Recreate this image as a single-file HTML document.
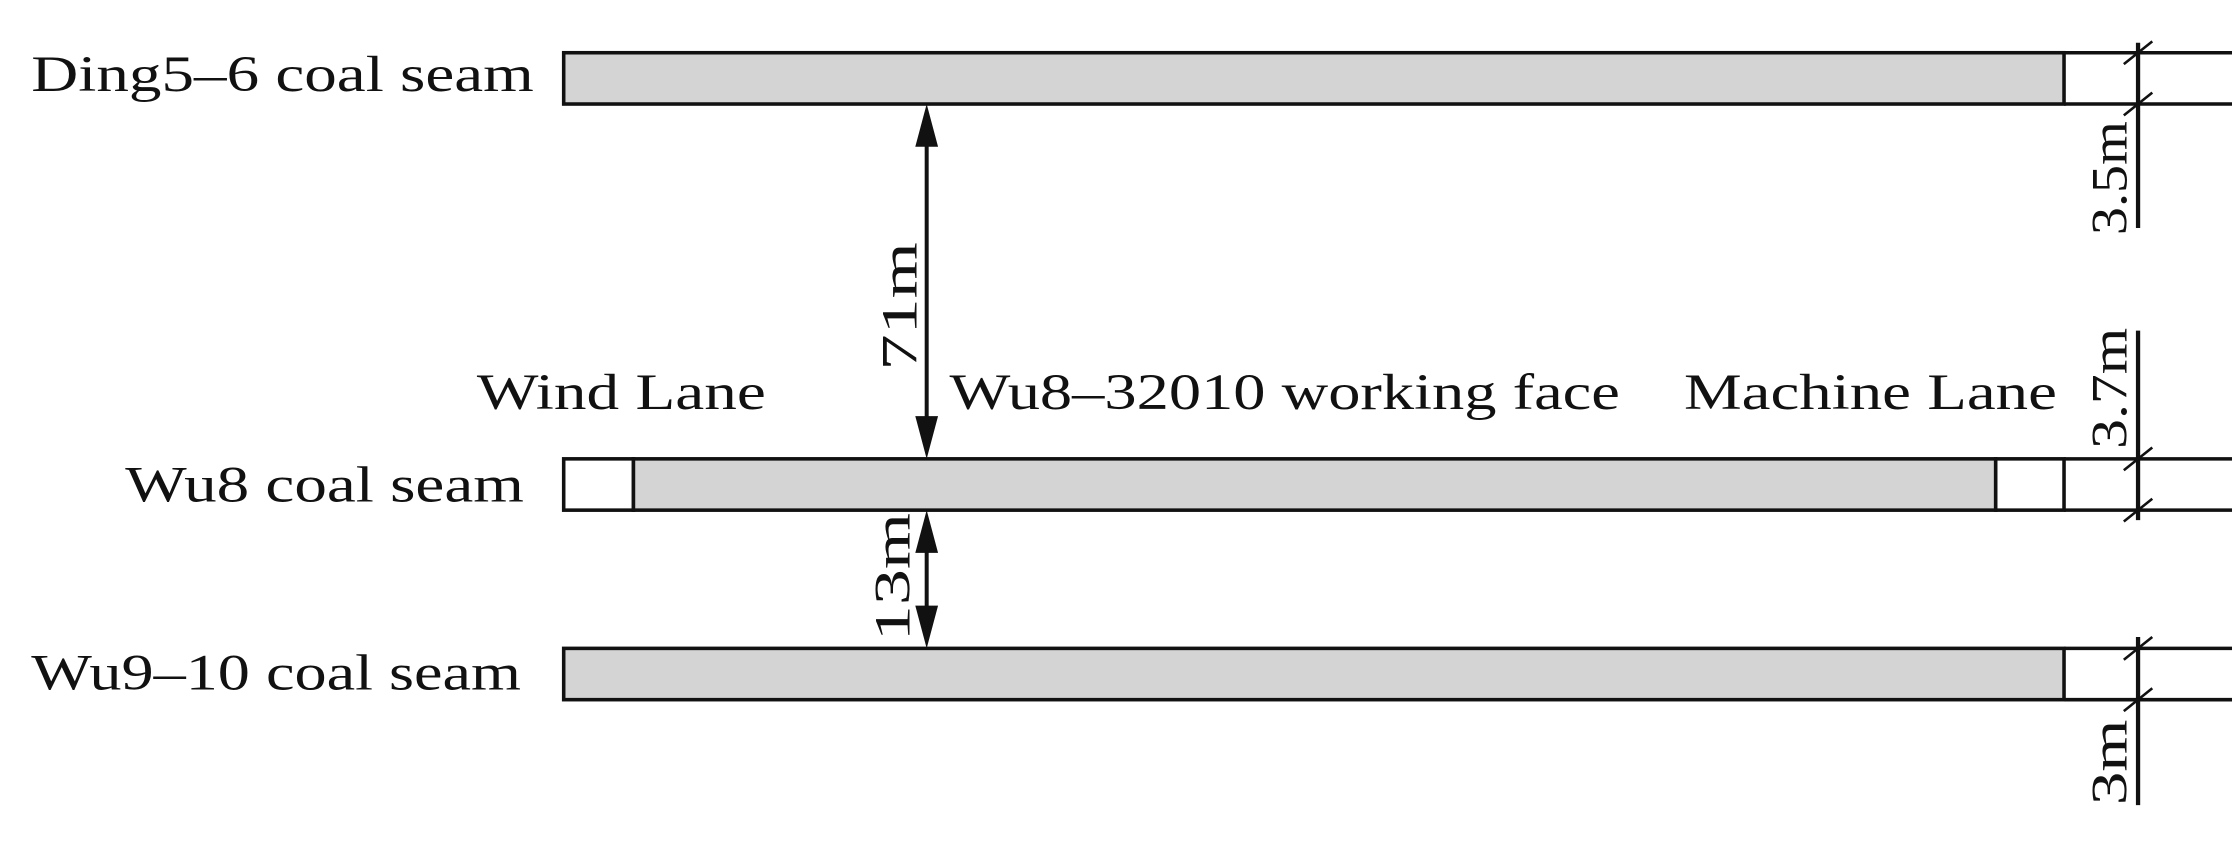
<!DOCTYPE html>
<html><head><style>html,body{margin:0;padding:0;background:#fff}svg{display:block}text{font-family:"Liberation Serif","Times New Roman",serif}</style></head>
<body>
<svg width="2232" height="855" viewBox="0 0 1568 600" preserveAspectRatio="none" xmlns="http://www.w3.org/2000/svg">
<g stroke="#111" stroke-width="2.5" fill="none">
<rect x="396" y="37" width="1054" height="36" fill="#d4d4d4"/>
<line x1="1450" y1="37" x2="1568" y2="37"/>
<line x1="1450" y1="73" x2="1568" y2="73"/>
<rect x="396" y="322" width="49" height="36" fill="#fff"/>
<rect x="445" y="322" width="957" height="36" fill="#d4d4d4"/>
<rect x="1402" y="322" width="48" height="36" fill="#fff"/>
<line x1="1450" y1="322" x2="1568" y2="322"/>
<line x1="1450" y1="358" x2="1568" y2="358"/>
<rect x="396" y="455" width="1054" height="36" fill="#d4d4d4"/>
<line x1="1450" y1="455" x2="1568" y2="455"/>
<line x1="1450" y1="491" x2="1568" y2="491"/>
<line x1="1502" y1="30" x2="1502" y2="160" stroke-width="3"/>
<line x1="1502" y1="232" x2="1502" y2="365" stroke-width="3"/>
<line x1="1502" y1="447" x2="1502" y2="565" stroke-width="3"/>
<g stroke-width="1.8">
<line x1="1492" y1="45" x2="1512" y2="29"/>
<line x1="1492" y1="81" x2="1512" y2="65"/>
<line x1="1492" y1="330" x2="1512" y2="314"/>
<line x1="1492" y1="366" x2="1512" y2="350"/>
<line x1="1492" y1="463" x2="1512" y2="447"/>
<line x1="1492" y1="499" x2="1512" y2="483"/>
</g>
<line x1="651" y1="95" x2="651" y2="300" stroke-width="2.8"/>
<line x1="651" y1="380" x2="651" y2="433" stroke-width="2.8"/>
</g>
<g fill="#111">
<polygon points="651,73 643,103 659,103"/>
<polygon points="651,322 643,292 659,292"/>
<polygon points="651,358 643,388 659,388"/>
<polygon points="651,455 643,425 659,425"/>
</g>
<g font-size="36" fill="#111">
<text x="22" y="64" textLength="353" lengthAdjust="spacingAndGlyphs">Ding5–6 coal seam</text>
<text x="88" y="352" textLength="280" lengthAdjust="spacingAndGlyphs">Wu8 coal seam</text>
<text x="22" y="484" textLength="344" lengthAdjust="spacingAndGlyphs">Wu9–10 coal seam</text>
<text x="335" y="287" textLength="203" lengthAdjust="spacingAndGlyphs">Wind Lane</text>
<text x="667" y="287" textLength="471" lengthAdjust="spacingAndGlyphs">Wu8–32010 working face</text>
<text x="1183" y="287" textLength="262" lengthAdjust="spacingAndGlyphs">Machine Lane</text>
<text transform="translate(644,260) rotate(-90)" textLength="90" lengthAdjust="spacingAndGlyphs">71m</text>
<text transform="translate(639,450) rotate(-90)" textLength="90" lengthAdjust="spacingAndGlyphs">13m</text>
<text transform="translate(1494,165) rotate(-90)" textLength="80" lengthAdjust="spacingAndGlyphs">3.5m</text>
<text transform="translate(1494,315) rotate(-90)" textLength="85" lengthAdjust="spacingAndGlyphs">3.7m</text>
<text transform="translate(1494,565) rotate(-90)" textLength="60" lengthAdjust="spacingAndGlyphs">3m</text>
</g>
</svg>
</body></html>
